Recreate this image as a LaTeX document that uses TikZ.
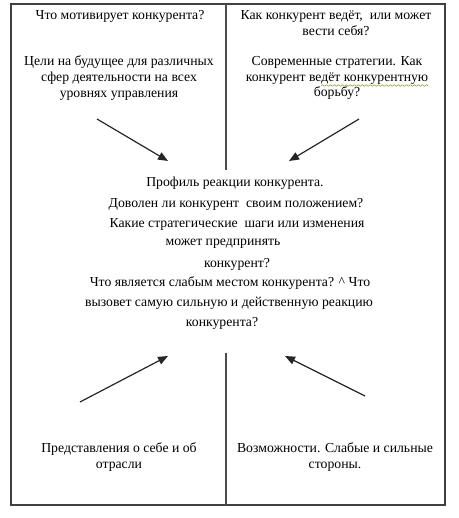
\documentclass[tikz,border=0pt]{standalone}
\usepackage{fontspec}
\setmainfont{Liberation Serif}
\usetikzlibrary{arrows.meta,decorations.pathmorphing}
\begin{document}
\begin{tikzpicture}[x=0.75pt,y=-0.75pt,
  frame/.style={draw=black!75,line width=1.3pt},
  divider/.style={draw=black!70,line width=0.8pt},
  txt/.style={font=\fontsize{10.3}{11.7}\selectfont,align=center,inner sep=0pt,text=black},
  ctxt/.style={font=\fontsize{10.3}{11.7}\selectfont,inner sep=0pt,text=black},
  arr/.style={draw=black!85,line width=0.9pt,-{Triangle[length=7.5pt,width=6pt]}}]
\useasboundingbox (0,0) rectangle (458,518);
\draw[frame] (11,4) rectangle (445,505);
\coordinate (t1) at (226,4);
\coordinate (t2) at (226,170);
\coordinate (b1) at (226,353);
\coordinate (b2) at (226,505);
\draw[divider] (t1) -- (t2);
\draw[divider] (b1) -- (b2);
% top-left
\node[txt] (tl1) at (120,16) {Что мотивирует конкурента?};
\node[txt] (tl2) at (119,78) {Цели на будущее для различных\\сфер деятельности на всех\\уровнях управления};
% top-right
\node[txt] (tr1) at (336,23) {Как конкурент ведёт,\ \ или может\\вести себя?};
\node[txt] (tr2) at (337,78) {Современные стратегии. Как\\конкурент ведёт конкурентную\\борьбу?};
% centre
\node[ctxt] (c1) at (235,183) {Профиль реакции конкурента.};
\node[ctxt] (c2) at (236,204) {Доволен ли конкурент\ \ своим положением?};
\node[ctxt] (c3) at (237,224) {Какие стратегические\ \ шаги или изменения};
\node[ctxt] (c4) at (223,244) {может предпринять};
\node[ctxt] (c5) at (237,264) {конкурент?};
\node[ctxt] (c6) at (230,283) {Что является слабым местом конкурента? \^{} Что};
\node[ctxt] (c7) at (229,303) {вызовет самую сильную и действенную реакцию};
\node[ctxt] (c8) at (222,323) {конкурента?};
% bottom
\node[txt] (bl) at (119,457) {Представления о себе и об\\отрасли};
\node[txt] (br) at (335,457) {Возможности. Слабые и сильные\\стороны.};
% arrow anchors
\coordinate (a1s) at (97,119);  \coordinate (a1e) at (168,161);
\coordinate (a2s) at (359,119); \coordinate (a2e) at (289,161);
\coordinate (a3s) at (80,402);  \coordinate (a3e) at (168,356);
\coordinate (a4s) at (365,396); \coordinate (a4e) at (285,356);
\draw[arr] (a1s) -- (a1e);
\draw[arr] (a2s) -- (a2e);
\draw[arr] (a3s) -- (a3e);
\draw[arr] (a4s) -- (a4e);
% spell-check wavy underline
\coordinate (w1) at (321,85.5);
\coordinate (w2) at (428,85.5);
\draw[olive!70!green,line width=0.4pt,decorate,decoration={snake,amplitude=0.6pt,segment length=3pt}] (w1) -- (w2);
\end{tikzpicture}
\end{document}
